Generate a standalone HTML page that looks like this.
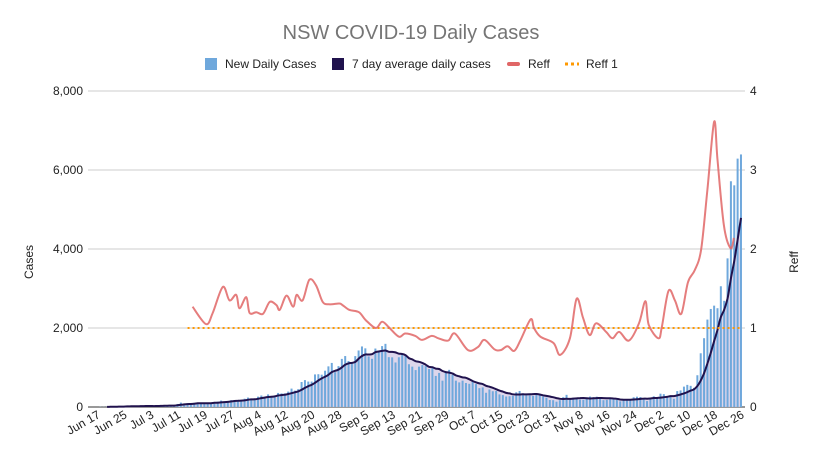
<!DOCTYPE html>
<html><head><meta charset="utf-8">
<style>
body{margin:0;background:#fff;}
svg{display:block;font-family:"Liberation Sans",sans-serif;}
</style></head>
<body>
<svg id="chart" width="820" height="450" viewBox="0 0 820 450">
<rect width="820" height="450" fill="#fff"/>
<text x="411" y="39" text-anchor="middle" font-size="20" fill="#757575">NSW COVID-19 Daily Cases</text>
<g font-size="12" fill="#222">
 <g><rect x="205" y="58" width="12" height="12" fill="#6fa8dc"/><text x="225" y="68">New Daily Cases</text></g>
 <g><rect x="332" y="58" width="12" height="12" fill="#20124d"/><text x="352" y="68">7 day average daily cases</text></g>
 <g><rect x="507" y="62" width="13" height="4" rx="2" fill="#e06666"/><text x="528" y="68">Reff</text></g>
 <g><line x1="565" y1="64" x2="579" y2="64" stroke="#ff9900" stroke-width="3" stroke-dasharray="3,3"/><text x="586" y="68">Reff 1</text></g>
</g>
<g id="grid"></g>
<g id="yl" font-size="12" fill="#222"></g>
<g id="yr" font-size="12" fill="#222"></g>
<text transform="translate(33,262) rotate(-90)" text-anchor="middle" font-size="12" fill="#222">Cases</text>
<text transform="translate(798,262) rotate(-90)" text-anchor="middle" font-size="12" fill="#222">Reff</text>
<g id="plot"></g>
<g id="xl" font-size="12" fill="#222"></g>
</svg>
<script>
const cases = [
0,4,3,3,10,11,16,22,11,29,30,18,19,22,
24,31,35,16,35,27,38,44,50,44,77,112,89,97,65,105,111,98,110,78,110,124,136,163,141,145,172,177,170,163,210,
239,207,199,262,291,262,319,262,283,356,344,345,390,466,415,452,633,681,644,644,825,830,818,919,1029,1116,882,1035,1218,1290,1164,
1116,1288,1431,1533,1485,1281,1220,1480,1405,1542,1599,1262,1257,1127,1259,1351,1331,1083,1022,935,1022,1063,1035,961,1007,787,863,667,863,941,
813,667,623,667,608,587,646,580,477,496,360,444,399,406,319,301,265,273,283,372,406,345,294,296,282,304,293,268,236,177,173,
135,173,249,308,216,236,211,187,185,216,264,250,261,224,173,180,199,228,187,143,167,180,182,246,261,252,203,150,208,271,
251,337,325,271,260,208,403,420,516,560,536,485,804,1360,1742,2213,2482,2566,2501,3057,2688,3763,5715,5612,6288,6394];
const reffDays = [28.5,32.5,34.5,37.5,39.5,41.5,42.5,44.5,45.5,47.5,49.5,51.5,53.5,54.5,56.5,58.5,59.5,61.3,63.3,65.3,67.3,69.2,72.2,73.2,75.2,78.1,80.1,83.1,85,87,90,91.9,94.9,96.9,99.8,101.8,104.7,106.7,110.6,113.6,115.5,118.5,120.4,122.4,124.4,126.3,129.3,130.3,132.2,136.1,138.1,141,143,144.9,146.9,148.8,151.8,153.7,155.7,158.6,161.6,163.5,164.5,167.4,168.4,170.4,172.3,174.2,176.2,178.2,180.1,182,184,185,186.9,188.9,189.9];
const reffValues = [1.27,1.05,1.19,1.52,1.35,1.42,1.25,1.39,1.19,1.2,1.18,1.33,1.29,1.23,1.41,1.27,1.42,1.35,1.61,1.54,1.33,1.30,1.31,1.29,1.23,1.20,1.10,1.0,1.08,1.01,0.89,0.93,0.90,0.85,0.90,0.87,0.84,0.93,0.72,0.76,0.85,0.73,0.72,0.77,0.71,0.85,1.11,1.0,0.89,0.81,0.66,0.87,1.37,1.13,0.91,1.06,0.95,0.87,0.95,0.84,1.06,1.34,1.04,0.87,1.01,1.47,1.35,1.18,1.58,1.73,1.99,2.75,3.61,3.13,2.3,2.01,2.14];
const reffOneStart = 27;
const leftTicks = [0,2000,4000,6000,8000];
const leftTickLabels = ["0","2,000","4,000","6,000","8,000"];
const rightTicks = [0,1,2,3,4];
const xLabels = ["Jun 17","Jun 25","Jul 3","Jul 11","Jul 19","Jul 27","Aug 4","Aug 12","Aug 20","Aug 28","Sep 5","Sep 13","Sep 21","Sep 29","Oct 7","Oct 15","Oct 23","Oct 31","Nov 8","Nov 16","Nov 24","Dec 2","Dec 10","Dec 18","Dec 26"];

const NS="http://www.w3.org/2000/svg";
const X0=97, DX=3.354, Y0=407, H=316, L=88, R=745;
const x = i => X0 + i*DX;
const yL = v => Y0 - v/8000*H;
const yR = v => Y0 - v/4*H;
function mk(tag, attrs, parent){const e=document.createElementNS(NS,tag);for(const k in attrs)e.setAttribute(k,attrs[k]);parent.appendChild(e);return e;}
const grid=document.getElementById('grid'), plot=document.getElementById('plot');
leftTicks.forEach((t,i)=>{
  const g=mk('line',{x1:L,x2:R,y1:yL(t),y2:yL(t),stroke:i===0?'#333':'#ccc','stroke-width':1},grid);
  
  
  const tx=mk('text',{x:83,y:yL(t)+4,'text-anchor':'end'},document.getElementById('yl'));
  tx.textContent=leftTickLabels[i];
  
  
});
rightTicks.forEach(t=>{
  const tx=mk('text',{x:750,y:yR(t)+4},document.getElementById('yr'));
  tx.textContent=String(t);
  
  
});
const avg = cases.map((c,i)=>{const s=cases.slice(Math.max(0,i-6),i+1);return s.reduce((a,b)=>a+b,0)/s.length;});
function smooth(pts){let d='M'+pts[0][0]+','+pts[0][1];for(let i=0;i<pts.length-1;i++){const p0=pts[Math.max(0,i-1)],p1=pts[i],p2=pts[i+1],p3=pts[Math.min(pts.length-1,i+2)];
 const c1=[p1[0]+(p2[0]-p0[0])/6,p1[1]+(p2[1]-p0[1])/6],c2=[p2[0]-(p3[0]-p1[0])/6,p2[1]-(p3[1]-p1[1])/6];
 d+=` C${c1[0].toFixed(1)},${c1[1].toFixed(1)} ${c2[0].toFixed(1)},${c2[1].toFixed(1)} ${p2[0].toFixed(1)},${p2[1].toFixed(1)}`;}return d;}
const start=3;
const avgPts=avg.slice(start).map((v,k)=>[x(k+start),yL(v)]);
const areaD=smooth(avgPts)+` L${x(cases.length-1)},${Y0} L${x(start)},${Y0} Z`;
const area=mk('path',{d:areaD,fill:'#d9d2e9',opacity:0.9},plot);


cases.forEach((c,i)=>{
  const b=mk('rect',{x:x(i)-1,y:yL(c),width:2,height:Math.max(0,Y0-yL(c)),fill:'#6fa8dc'},plot);
  
  
});
const al=mk('path',{d:smooth(avgPts),fill:'none',stroke:'#20124d','stroke-width':2},plot);


const r1=mk('line',{x1:x(reffOneStart),x2:x(cases.length-1),y1:yR(1),y2:yR(1),stroke:'#ff9900','stroke-width':2,'stroke-dasharray':'2,3'},plot);


const rPts=reffDays.map((d,k)=>[x(d),yR(reffValues[k])]);
const rl=mk('path',{d:smooth(rPts),fill:'none',stroke:'#e06666','stroke-width':2,opacity:0.85},plot);


xLabels.forEach((lab,k)=>{
  const px=x(k*8);
  const t=mk('text',{'text-anchor':'end',transform:`translate(${px+4},${417}) rotate(-30)`},document.getElementById('xl'));
  t.textContent=lab;
  
  
});
</script>
</body></html>
